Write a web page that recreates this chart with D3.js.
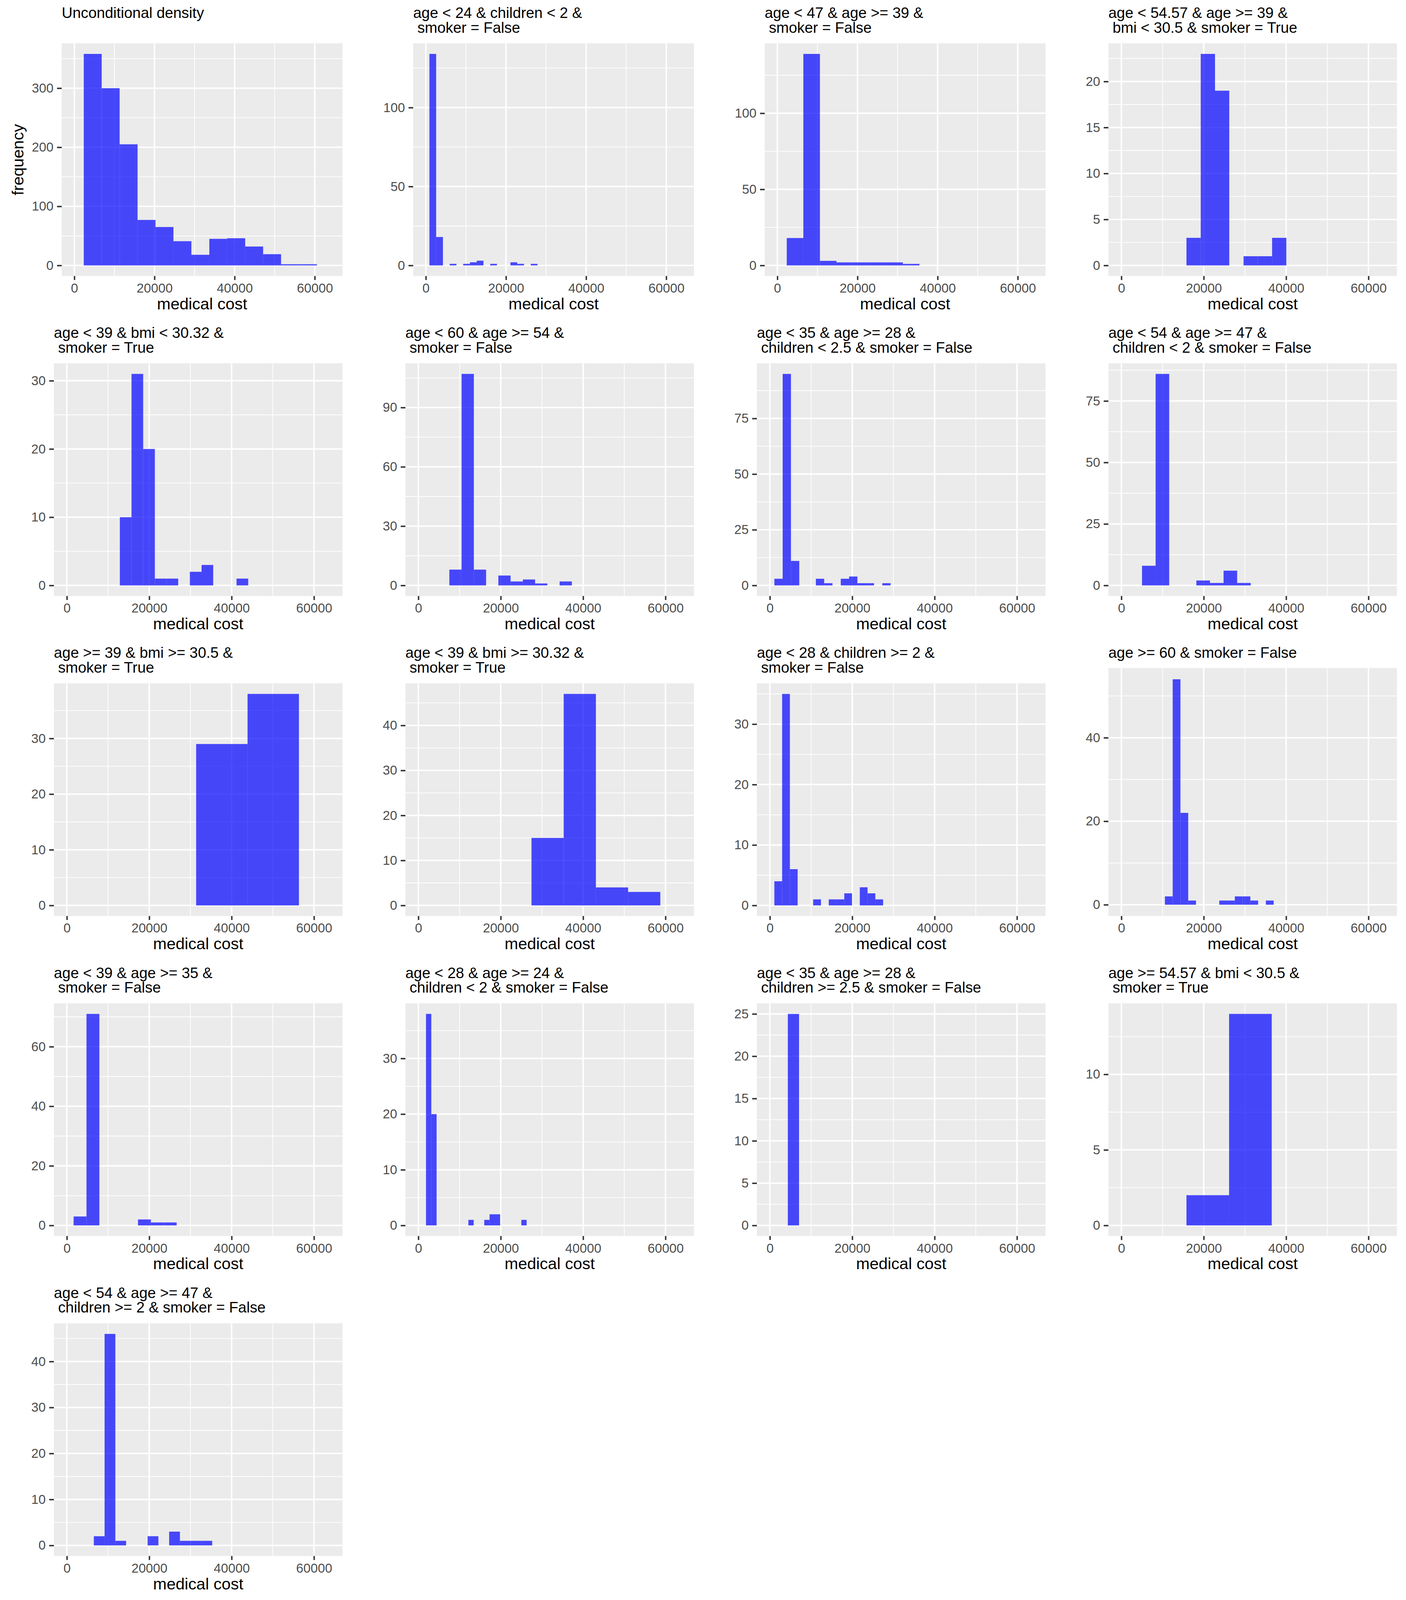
<!DOCTYPE html>
<html>
<head>
<meta charset="utf-8">
<script src="https://cdn.jsdelivr.net/npm/d3@7"></script>
<style>
  html, body { margin: 0; padding: 0; background: #ffffff; overflow: hidden; }
  svg { display: block; }
  text { font-family: "Liberation Sans", Arial, Helvetica, sans-serif; white-space: pre; }
</style>
</head>
<body>
<svg id="chart"></svg>
<script>
// ---------------- data ----------------
const titles = [
  ["Unconditional density", ""],
  ["age < 24 & children < 2 &", " smoker = False"],
  ["age < 47 & age >= 39 &", " smoker = False"],
  ["age < 54.57 & age >= 39 &", " bmi < 30.5 & smoker = True"],
  ["age < 39 & bmi < 30.32 &", " smoker = True"],
  ["age < 60 & age >= 54 &", " smoker = False"],
  ["age < 35 & age >= 28 &", " children < 2.5 & smoker = False"],
  ["age < 54 & age >= 47 &", " children < 2 & smoker = False"],
  ["age >= 39 & bmi >= 30.5 &", " smoker = True"],
  ["age < 39 & bmi >= 30.32 &", " smoker = True"],
  ["age < 28 & children >= 2 &", " smoker = False"],
  ["age >= 60 & smoker = False"],
  ["age < 39 & age >= 35 &", " smoker = False"],
  ["age < 28 & age >= 24 &", " children < 2 & smoker = False"],
  ["age < 35 & age >= 28 &", " children >= 2.5 & smoker = False"],
  ["age >= 54.57 & bmi < 30.5 &", " smoker = True"],
  ["age < 54 & age >= 47 &", " children >= 2 & smoker = False"]
];

// left edge of the first bin (medical cost) for each panel
const binStarts = [2350, 895, 2350, 15804, 12861, 7520, 1090, 5014, 31390, 27466, 1090, 10572, 1635, 1853, 4360, 15804, 6545];
// bin width (medical cost) for each panel
const binWidths = [4477, 1686, 4140, 3466, 2834, 2975, 2016, 3300, 12480, 7820, 1886, 1886, 3128, 1286, 2725, 10354, 2613];

// frequency per bin
const counts = [
  [358, 300, 205, 77, 65, 41, 18, 45, 46, 32, 19, 2, 2],
  [134, 18, 0, 1, 0, 1, 2, 3, 0, 1, 0, 0, 2, 1, 0, 1],
  [18, 139, 3, 2, 2, 2, 2, 1],
  [3, 23, 19, 0, 1, 1, 3],
  [10, 31, 20, 1, 1, 0, 2, 3, 0, 0, 1],
  [8, 107, 8, 0, 5, 2, 3, 1, 0, 2],
  [3, 95, 11, 0, 0, 3, 1, 0, 3, 4, 1, 1, 0, 1],
  [8, 86, 0, 0, 2, 1, 6, 1],
  [29, 38],
  [15, 47, 4, 3],
  [4, 35, 6, 0, 0, 1, 0, 1, 1, 2, 0, 3, 2, 1],
  [2, 54, 22, 1, 0, 0, 0, 1, 1, 2, 2, 1, 0, 1],
  [3, 71, 0, 0, 0, 2, 1, 1],
  [38, 20, 0, 0, 0, 0, 0, 0, 1, 0, 0, 1, 2, 2, 0, 0, 0, 0, 1],
  [25],
  [2, 14],
  [2, 46, 1, 0, 0, 2, 0, 3, 1, 1, 1]
];

// y-axis tick labels per panel
const yTicks = [
  [0, 100, 200, 300],
  [0, 50, 100],
  [0, 50, 100],
  [0, 5, 10, 15, 20],
  [0, 10, 20, 30],
  [0, 30, 60, 90],
  [0, 25, 50, 75],
  [0, 25, 50, 75],
  [0, 10, 20, 30],
  [0, 10, 20, 30, 40],
  [0, 10, 20, 30],
  [0, 20, 40],
  [0, 20, 40, 60],
  [0, 10, 20, 30],
  [0, 5, 10, 15, 20, 25],
  [0, 5, 10],
  [0, 10, 20, 30, 40]
];

// x-axis tick labels and minor breaks (shared)
const xTicks = [0, 20000, 40000, 60000];
const xMinor = [10000, 30000, 50000];
const xDomain = [-3150, 66930];

const xLabel = "medical cost";
const yLabel = "frequency";

// ---------------- drawing ----------------
// design space is 3600 x 4800; fit it to the actual viewport
const W = window.innerWidth || document.documentElement.clientWidth || 3600;
const H = window.innerHeight || document.documentElement.clientHeight || 4800;
const sx = W / 3600, sy = H / 4800, sm = Math.sqrt(sx * sy);
const PX = v => v * sx, PY = v => v * sy, FS = v => v * sm;

const svg = d3.select("#chart").attr("width", W).attr("height", H);
const nCols = 4, colW = 900, rowH = 960;
const barFill = "rgb(0,0,255)";

titles.forEach((tl, p) => {
  const col = p % nCols, row = Math.floor(p / nCols);
  const ox = col * colW, oy = row * rowH;
  const maxLen = d3.max(yTicks[p], t => String(t).length);
  const left = PX(ox + (maxLen >= 3 ? 158 : 138));
  const right = PX(ox + 877);
  const top = PY(oy + (tl.length >= 2 ? 130 : 84));
  const bottom = PY(oy + 828);

  const maxC = d3.max(counts[p]);
  const x = d3.scaleLinear().domain(xDomain).range([left, right]);
  const y = d3.scaleLinear().domain([-0.05 * maxC, 1.05 * maxC]).range([bottom, top]);

  const g = svg.append("g");

  // panel background
  g.append("rect")
    .attr("x", left).attr("y", top)
    .attr("width", right - left).attr("height", bottom - top)
    .attr("fill", "#EBEBEB");

  // minor grid
  const step = yTicks[p][1] - yTicks[p][0];
  const yMinor = yTicks[p].map(t => t + step / 2)
    .filter(v => v >= y.domain()[0] && v <= y.domain()[1]);
  g.selectAll(null).data(xMinor).enter().append("line")
    .attr("x1", d => x(d)).attr("x2", d => x(d))
    .attr("y1", top).attr("y2", bottom)
    .attr("stroke", "#ffffff").attr("stroke-width", FS(2));
  g.selectAll(null).data(yMinor).enter().append("line")
    .attr("x1", left).attr("x2", right)
    .attr("y1", d => y(d)).attr("y2", d => y(d))
    .attr("stroke", "#ffffff").attr("stroke-width", FS(2));

  // major grid
  g.selectAll(null).data(xTicks).enter().append("line")
    .attr("x1", d => x(d)).attr("x2", d => x(d))
    .attr("y1", top).attr("y2", bottom)
    .attr("stroke", "#ffffff").attr("stroke-width", FS(4));
  g.selectAll(null).data(yTicks[p]).enter().append("line")
    .attr("x1", left).attr("x2", right)
    .attr("y1", d => y(d)).attr("y2", d => y(d))
    .attr("stroke", "#ffffff").attr("stroke-width", FS(4));

  // bars
  const bins = counts[p].map((c, i) => ({
    x0: binStarts[p] + i * binWidths[p],
    x1: binStarts[p] + (i + 1) * binWidths[p],
    c: c
  })).filter(b => b.c > 0);
  g.selectAll(null).data(bins).enter().append("rect")
    .attr("x", d => x(d.x0))
    .attr("width", d => x(d.x1) - x(d.x0))
    .attr("y", d => y(d.c))
    .attr("height", d => y(0) - y(d.c))
    .attr("fill", barFill).attr("fill-opacity", 0.7);

  // x axis
  const xAxis = d3.axisBottom(x).tickValues(xTicks).tickSize(PY(12)).tickPadding(PY(10)).tickFormat(d3.format("d"));
  const xa = g.append("g").attr("transform", `translate(0,${bottom})`).call(xAxis);
  xa.select(".domain").remove();
  xa.selectAll(".tick line").attr("stroke", "#333333").attr("stroke-width", FS(4));
  xa.selectAll(".tick text").attr("fill", "#4D4D4D").attr("font-size", FS(36))
    .attr("font-family", "Liberation Sans, Arial, sans-serif");

  // y axis
  const yAxis = d3.axisLeft(y).tickValues(yTicks[p]).tickSize(PX(12)).tickPadding(PX(9)).tickFormat(d3.format("d"));
  const ya = g.append("g").attr("transform", `translate(${left},0)`).call(yAxis);
  ya.select(".domain").remove();
  ya.selectAll(".tick line").attr("stroke", "#333333").attr("stroke-width", FS(4));
  ya.selectAll(".tick text").attr("fill", "#4D4D4D").attr("font-size", FS(36))
    .attr("font-family", "Liberation Sans, Arial, sans-serif");

  // title
  tl.forEach((line, i) => {
    g.append("text")
      .attr("x", left).attr("y", PY(oy + 54 + 44 * i))
      .attr("font-size", FS(41.5)).attr("fill", "#000000")
      .text(line);
  });

  // x axis title
  g.append("text")
    .attr("x", (left + right) / 2).attr("y", PY(oy + 928))
    .attr("text-anchor", "middle").attr("font-size", FS(45)).attr("fill", "#000000")
    .text(xLabel);

  // y axis title (first panel only)
  if (p === 0) {
    g.append("text")
      .attr("transform", `translate(${PX(ox + 60)},${(top + bottom) / 2}) rotate(-90)`)
      .attr("text-anchor", "middle").attr("font-size", FS(45)).attr("fill", "#000000")
      .text(yLabel);
  }
});
</script>
</body>
</html>
